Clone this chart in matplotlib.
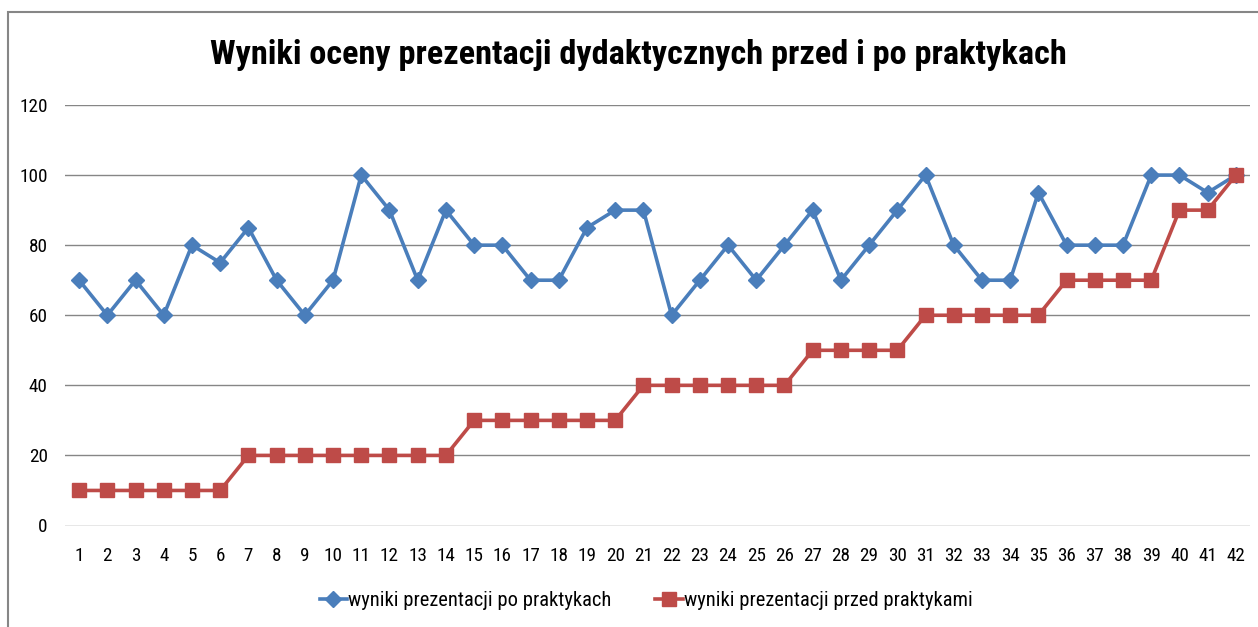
import matplotlib
matplotlib.use("Agg")
import matplotlib.pyplot as plt
from matplotlib.patches import Rectangle
from matplotlib import font_manager as fm

names = {f.name for f in fm.fontManager.ttflist}
narrow = [n for n in ["Roboto Condensed", "Liberation Sans Narrow", "DejaVu Sans Condensed", "Open Sans Condensed"] if n in names]
fam = narrow + ["Liberation Sans", "DejaVu Sans"]

categories = list(range(1, 43))
po_praktykach = [70, 60, 70, 60, 80, 75, 85, 70, 60, 70, 100, 90, 70, 90, 80, 80, 70, 70, 85, 90, 90,
                 60, 70, 80, 70, 80, 90, 70, 80, 90, 100, 80, 70, 70, 95, 80, 80, 80, 100, 100, 95, 100]
przed_praktykami = [10, 10, 10, 10, 10, 10, 20, 20, 20, 20, 20, 20, 20, 20, 30, 30, 30, 30, 30, 30, 40,
                    40, 40, 40, 40, 40, 50, 50, 50, 50, 60, 60, 60, 60, 60, 70, 70, 70, 70, 90, 90, 100]
y_ticks = [0, 20, 40, 60, 80, 100, 120]
title = "Wyniki oceny prezentacji dydaktycznych przed i po praktykach"
label_po = "wyniki prezentacji po praktykach"
label_przed = "wyniki prezentacji przed praktykami"

fig = plt.figure(figsize=(12.58, 6.27), dpi=100)
fig.patch.set_facecolor("white")
# frame
fig.patches.append(Rectangle((7.5/1258, -0.1), 1.2, 1.1 - 11.5/627, transform=fig.transFigure,
                             fill=False, edgecolor="#868686", linewidth=1.5))

ax = fig.add_axes([65/1258, 1 - 525.5/627, (1250 - 65)/1258, (525.5 - 105)/627])
ax.set_xlim(0.5, 42.5)
ax.set_ylim(0, 120)
ax.set_yticks(y_ticks)
ax.set_xticks(categories)
ax.set_xticklabels([str(c) for c in categories])
ax.yaxis.grid(True, color="#868686", linewidth=1.0)
ax.set_axisbelow(True)
for s in ax.spines.values():
    s.set_visible(False)
ax.tick_params(axis="both", length=0, labelsize=13.8, colors="black")
ax.tick_params(axis="y", pad=12.5)
ax.tick_params(axis="x", pad=15.5)
for lbl in ax.get_xticklabels() + ax.get_yticklabels():
    lbl.set_family(fam)

ax.plot(categories, po_praktykach, color="#4A7EBB", linewidth=2.6, marker="D", markersize=7.8,
        markerfacecolor="#4A7EBB", markeredgecolor="#4A7EBB", label=label_po, clip_on=False)
ax.plot(categories, przed_praktykami, color="#BE4B48", linewidth=2.6, marker="s", markersize=9.5,
        markerfacecolor="#BE4B48", markeredgecolor="#BE4B48", label=label_przed, clip_on=False)

fig.text(638/1258, 1 - 55/627, title, ha="center", va="center", fontsize=24.7, fontweight="bold",
         family=fam, color="black")

leg = fig.legend(loc="center", bbox_to_anchor=(646/1258, 1 - 601/627), ncol=2, frameon=False,
                 prop={"family": fam, "size": 14.8}, handlelength=1.35, handletextpad=0.05,
                 columnspacing=2.1)

fig.savefig("out.png", dpi=100, facecolor="white")
